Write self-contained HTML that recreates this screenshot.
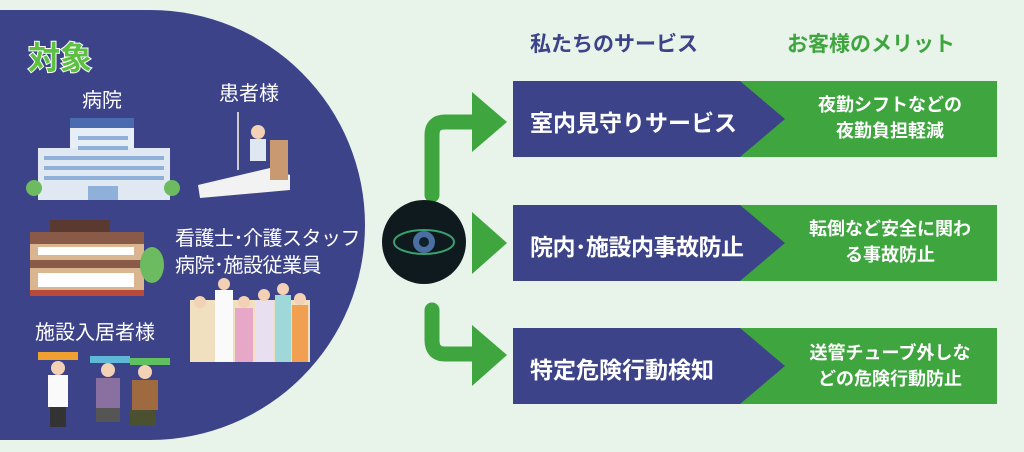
<!DOCTYPE html>
<html><head><meta charset="utf-8"><style>
body{margin:0;width:1024px;height:452px;background:#e8f3ea;overflow:hidden;position:relative;font-family:"Liberation Sans","Noto Sans CJK JP",sans-serif}
.t{position:absolute;white-space:nowrap}
</style></head><body>
<svg width="1024" height="452" style="position:absolute;left:0;top:0">
<path d="M0 10 H150 A215 215 0 0 1 150 440 H0 Z" fill="#3d4389"/>
<g>
<rect x="70" y="118" width="64" height="10" fill="#4a6bb0"/>
<rect x="70" y="128" width="64" height="72" fill="#e8eef5"/>
<rect x="38" y="148" width="132" height="52" fill="#e0e8f2"/>
<g fill="#8fb0d8"><rect x="78" y="136" width="50" height="4"/><rect x="78" y="146" width="50" height="4"/><rect x="44" y="156" width="120" height="4"/><rect x="44" y="166" width="120" height="4"/><rect x="44" y="176" width="120" height="4"/><rect x="88" y="186" width="30" height="14"/></g>
<circle cx="34" cy="188" r="8" fill="#6dbb60"/><circle cx="172" cy="188" r="8" fill="#6dbb60"/>
</g>
<g>
<path d="M198 185 L270 168 L290 175 L290 190 L200 198 Z" fill="#f2f2f2"/>
<rect x="270" y="140" width="18" height="40" fill="#c99a72"/>
<circle cx="258" cy="132" r="7" fill="#f3d1b4"/><rect x="250" y="139" width="16" height="22" fill="#dfe8f0"/>
<line x1="238" y1="112" x2="238" y2="170" stroke="#ccc" stroke-width="2"/>
</g>
<g>
<rect x="50" y="220" width="60" height="12" fill="#5a3a30"/>
<rect x="30" y="232" width="114" height="12" fill="#8a5a48"/>
<rect x="30" y="244" width="114" height="16" fill="#d9b690"/>
<rect x="30" y="260" width="114" height="8" fill="#8a5a48"/>
<rect x="30" y="268" width="114" height="28" fill="#d9b690"/>
<g fill="#fff"><rect x="38" y="247" width="96" height="8"/><rect x="38" y="273" width="96" height="14"/></g>
<rect x="30" y="290" width="114" height="6" fill="#b84a3a"/>
<ellipse cx="152" cy="265" rx="12" ry="18" fill="#6dbb60"/>
</g>
<g>
<rect x="190" y="300" width="120" height="62" fill="#f0e0c0"/>
<rect x="215" y="290" width="18" height="72" fill="#fafafa"/><rect x="235" y="308" width="18" height="54" fill="#e7a8c8"/><rect x="255" y="300" width="18" height="62" fill="#e8e0f0"/><rect x="275" y="295" width="16" height="67" fill="#9fd8d8"/><rect x="292" y="305" width="16" height="57" fill="#f0a050"/>
<g fill="#f3d1b4"><circle cx="200" cy="302" r="6"/><circle cx="224" cy="284" r="6"/><circle cx="244" cy="302" r="6"/><circle cx="264" cy="295" r="6"/><circle cx="283" cy="289" r="6"/><circle cx="300" cy="299" r="6"/></g>
</g>
<g>
<rect x="38" y="352" width="40" height="8" fill="#f0a030"/><rect x="90" y="356" width="40" height="7" fill="#60b8d8"/><rect x="130" y="358" width="40" height="7" fill="#60c060"/>
<rect x="48" y="375" width="20" height="32" fill="#fafafa"/><rect x="50" y="407" width="16" height="20" fill="#333"/>
<rect x="96" y="378" width="24" height="30" fill="#8a70a0"/><rect x="96" y="408" width="24" height="14" fill="#555"/>
<rect x="132" y="380" width="26" height="30" fill="#a06a40"/><rect x="130" y="410" width="26" height="16" fill="#4a5030"/>
<g fill="#f3d1b4"><circle cx="58" cy="368" r="7"/><circle cx="108" cy="370" r="7"/><circle cx="145" cy="372" r="7"/></g>
</g>
<g fill="none" stroke="#3fa53f" stroke-width="15" stroke-linejoin="round" stroke-linecap="round">
<path d="M432 195 V135 Q432 122 445 122 H475"/>
<path d="M432 310 V340 Q432 354 445 354 H475"/>
</g>
<g fill="#3fa53f">
<polygon points="472,92 507,122 472,152"/>
<polygon points="472,212 507,243 472,274"/>
<polygon points="472,325 507,355 472,386"/>
</g>
<circle cx="424" cy="242" r="42" fill="#0e1a1e"/>
<ellipse cx="424" cy="242" rx="30" ry="12" fill="none" stroke="#3aa070" stroke-width="2"/>
<circle cx="424" cy="242" r="11" fill="#4a6fa0"/><circle cx="424" cy="242" r="5" fill="#10202a"/>
<g>
<rect x="513" y="81" width="484" height="76" fill="#3fa53f"/><polygon points="513,81 740,81 785,119 740,157 513,157" fill="#3d4389"/>
<rect x="513" y="205" width="484" height="76" fill="#3fa53f"/><polygon points="513,205 740,205 785,243 740,281 513,281" fill="#3d4389"/>
<rect x="513" y="328" width="484" height="76" fill="#3fa53f"/><polygon points="513,328 740,328 785,366 740,404 513,404" fill="#3d4389"/>
</g>
</svg>
<div class="t" style="left:28px;top:33px;font-size:32px;font-weight:bold;color:#5cc040;-webkit-text-stroke:2px #fff;paint-order:stroke">対象</div>
<div class="t" style="left:82px;top:84px;font-size:20px;color:#fff">病院</div>
<div class="t" style="left:219px;top:77px;font-size:20px;color:#fff">患者様</div>
<div class="t" style="left:175px;top:226px;font-size:20px;color:#fff;line-height:27px;letter-spacing:-0.5px">看護士･介護スタッフ<br>病院･施設従業員</div>
<div class="t" style="left:35px;top:316px;font-size:20px;color:#fff">施設入居者様</div>
<div class="t" style="left:530px;top:28px;font-size:21px;font-weight:bold;color:#3d4389">私たちのサービス</div>
<div class="t" style="left:787px;top:28px;font-size:21px;font-weight:bold;color:#3fa53f">お客様のメリット</div>
<div class="t" style="left:530px;top:104px;font-size:23px;font-weight:bold;color:#fff">室内見守りサービス</div>
<div class="t" style="left:530px;top:228px;font-size:23px;font-weight:bold;color:#fff;letter-spacing:-0.5px">院内･施設内事故防止</div>
<div class="t" style="left:530px;top:351px;font-size:23px;font-weight:bold;color:#fff">特定危険行動検知</div>
<div class="t" style="left:785px;top:92px;width:210px;text-align:center;font-size:18px;font-weight:bold;color:#fff;line-height:26px">夜勤シフトなどの<br>夜勤負担軽減</div>
<div class="t" style="left:785px;top:216px;width:210px;text-align:center;font-size:18px;font-weight:bold;color:#fff;line-height:26px">転倒など安全に関わ<br>る事故防止</div>
<div class="t" style="left:785px;top:340px;width:210px;text-align:center;font-size:18px;font-weight:bold;color:#fff;line-height:26px">送管チューブ外しな<br>どの危険行動防止</div>
</body></html>
